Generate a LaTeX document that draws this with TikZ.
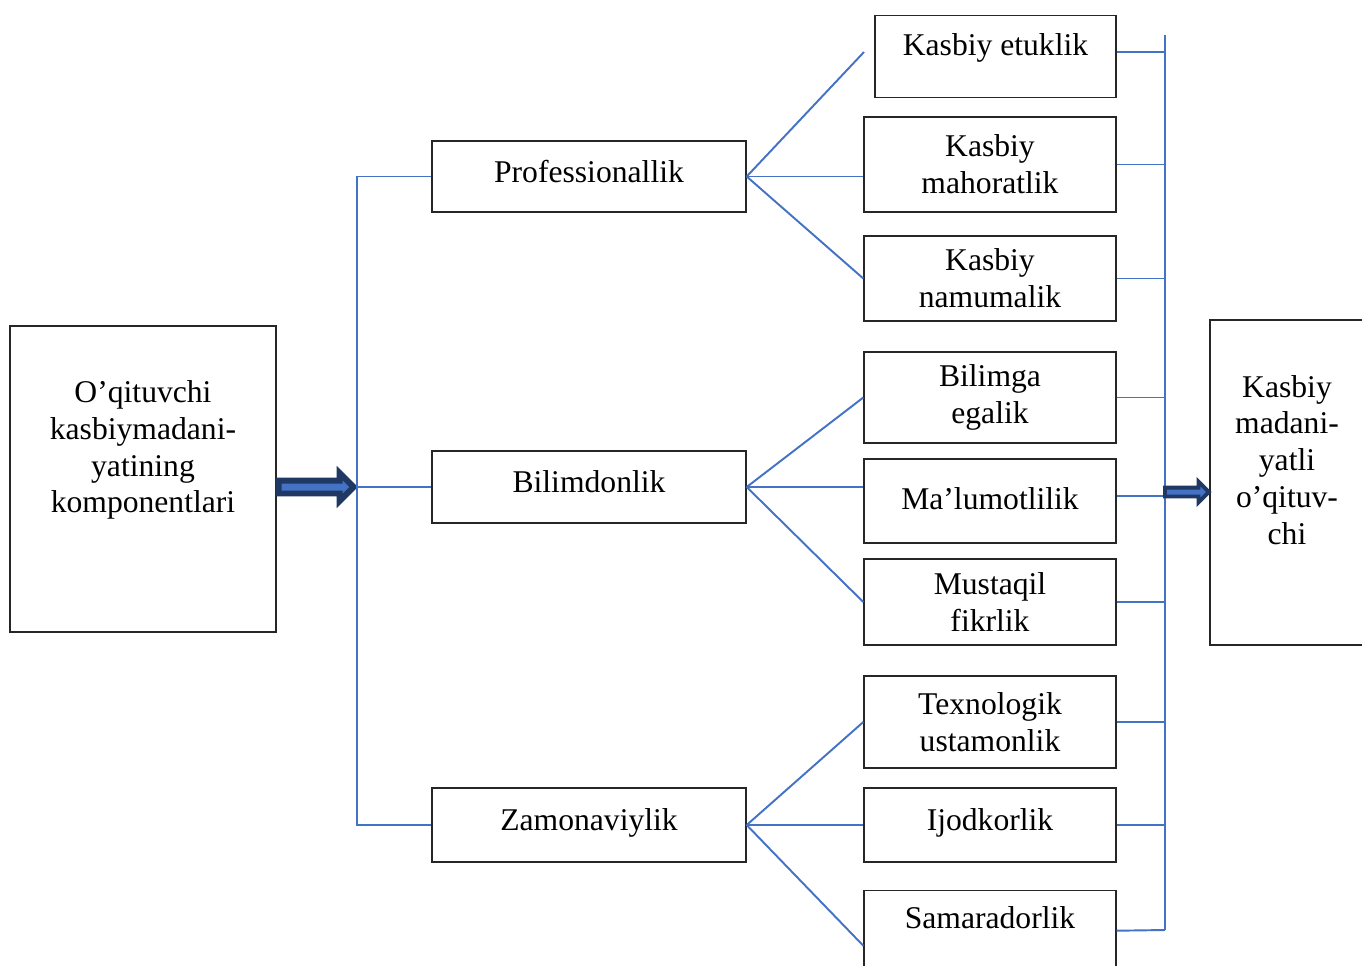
\documentclass[tikz,border=0pt]{standalone}
\usepackage{fontspec}
\setmainfont{Liberation Serif}
\usetikzlibrary{shapes.arrows,positioning}
\definecolor{linkblue}{HTML}{4472C4}
\definecolor{navy}{HTML}{203864}

\begin{document}
\begin{tikzpicture}[font=\fontsize{18}{21}\selectfont,
    box/.style={draw=black!85, line width=0.8pt, align=center, inner sep=0pt},
    link/.style={draw=linkblue, line width=1.1pt},
    bigarrow/.style={single arrow, draw=navy, fill=linkblue, inner xsep=0pt,
        single arrow head indent=0cm}]
   \useasboundingbox (0,0) rectangle (27.24,-19.3);

   % left and right big boxes
   \node[box, minimum width=5.32cm, minimum height=6.12cm] (comp) at (2.86,-9.58) {};
   \node[align=center] (comp_t) at (2.86,-9.0) {O’qituvchi\\kasbiymadani-\\yatining\\komponentlari};
   \node[box, minimum width=3.4cm, minimum height=6.5cm] (res) at (25.9,-9.65) {};
   \node[align=center] (res_t) at (25.74,-9.2) {Kasbiy\\madani-\\yatli\\o’qituv-\\chi};

   % middle boxes
   \node[box, minimum width=6.28cm, minimum height=1.42cm] (prof) at (11.78,-3.53) {\raisebox{0.2cm}{Professionallik}};
   \node[box, minimum width=6.28cm, minimum height=1.44cm] (bil) at (11.78,-9.74) {\raisebox{0.2cm}{Bilimdonlik}};
   \node[box, minimum width=6.28cm, minimum height=1.48cm] (zam) at (11.78,-16.5) {\raisebox{0.2cm}{Zamonaviylik}};

   % right boxes
   \node[box, anchor=north, minimum width=4.82cm, text height=0.8cm, text depth=0.84cm] (ke) at (19.91,-0.3) {Kasbiy etuklik};
   \node[box, minimum width=5.04cm, minimum height=1.9cm] (km) at (19.8,-3.29) {Kasbiy\\mahoratlik};
   \node[box, minimum width=5.04cm, minimum height=1.7cm] (kn) at (19.8,-5.57) {Kasbiy\\namumalik};
   \node[box, minimum width=5.04cm, minimum height=1.82cm] (be) at (19.8,-7.95) {Bilimga\\egalik};
   \node[box, minimum width=5.04cm, minimum height=1.68cm] (ml) at (19.8,-10.02) {\raisebox{0.1cm}{Ma’lumotlilik}};
   \node[box, minimum width=5.04cm, minimum height=1.72cm] (mf) at (19.8,-12.04) {Mustaqil\\fikrlik};
   \node[box, minimum width=5.04cm, minimum height=1.84cm] (tu) at (19.8,-14.44) {Texnologik\\ustamonlik};
   \node[box, minimum width=5.04cm, minimum height=1.48cm] (ij) at (19.8,-16.5) {\raisebox{0.2cm}{Ijodkorlik}};
   \node[box, anchor=north, minimum width=5.04cm, text height=0.76cm, text depth=1.44cm] (sa) at (19.8,-17.8) {Samaradorlik};

   % arrows
   \node[bigarrow, anchor=west, line width=3.4pt, inner ysep=0.07cm, minimum height=1.5cm, minimum width=0.52cm,
         single arrow head extend=0.15cm] (arr_in) at ([xshift=-0.02cm]comp.east |- bil.west) {};

   % buses
   \coordinate (bus_l) at (7.14,-9.74);
   \coordinate (bus_top) at (23.3,-0.7);
   \coordinate (bus_bot) at (23.3,-18.6);
   \coordinate (ke_in) at (17.28,-1.04);

   \draw[link] (prof.west) -- (prof.west -| bus_l) -- (zam.west -| bus_l) -- (zam.west);
   \draw[link] (bil.west -| bus_l) -- (bil.west);
   \draw[link] (bus_top) -- (bus_bot);

   \path[link]
    (prof.east) edge (ke_in)
                edge (km.west |- prof.east)
                edge (kn.west)
    (bil.east)  edge (be.west)
                edge (bil.east -| ml.west)
                edge (mf.west)
    (zam.east)  edge (tu.west)
                edge (ij.west)
                edge (sa.west);

   \path[link]
    ([yshift=0.1cm]ke.east) edge ([yshift=0.1cm]ke.east -| bus_top)
    (km.east) edge (km.east -| bus_top)
    (kn.east) edge (kn.east -| bus_top)
    (be.east) edge (be.east -| bus_top)
    ([yshift=0.1cm]ml.east) edge ([yshift=0.1cm]ml.east -| bus_top)
    (mf.east) edge (mf.east -| bus_top)
    (tu.east) edge (tu.east -| bus_top)
    (ij.east) edge (ij.east -| bus_top)
    ([yshift=0.3cm]sa.east) edge (bus_bot);

   \node[bigarrow, anchor=west, line width=2.2pt, inner ysep=0.05cm, minimum height=0.88cm, minimum width=0.36cm,
         single arrow head extend=0.12cm] (arr_out) at (23.26,-9.84) {};
\end{tikzpicture}
\end{document}
